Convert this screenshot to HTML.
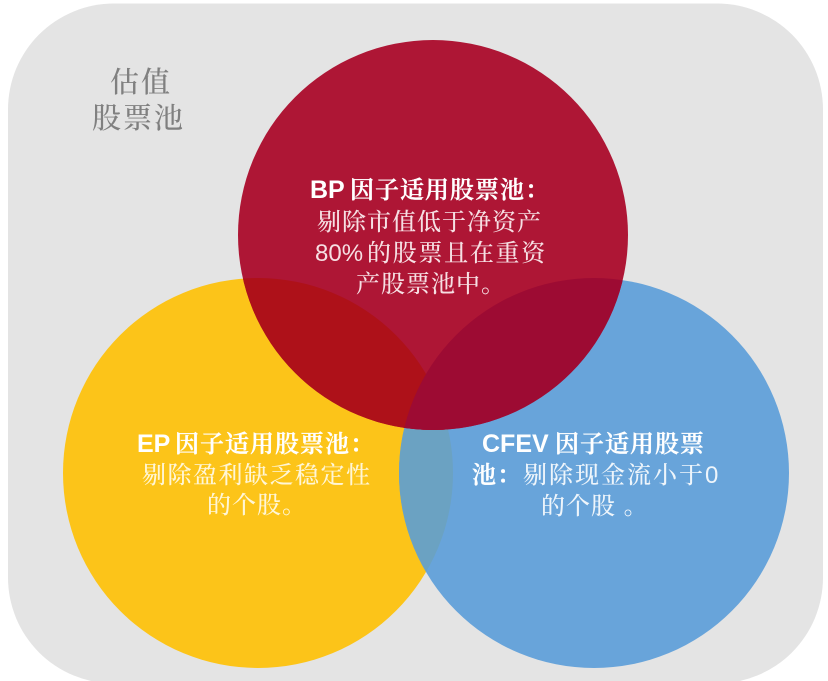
<!DOCTYPE html>
<html lang="zh">
<head>
<meta charset="utf-8">
<title>估值股票池</title>
<style>
html,body{margin:0;padding:0;background:#fff;width:828px;height:681px;overflow:hidden}
svg{display:block;filter:blur(.35px)}
text{font-family:"Liberation Sans","Noto Serif CJK SC",serif;font-size:24px;letter-spacing:1px;white-space:pre;font-weight:500}
.t{fill:#fff;font-weight:700;font-size:25px;letter-spacing:0}
.t tspan{font-size:24px;letter-spacing:1px;font-weight:600;stroke:#fff;stroke-width:.35px}
.r{fill:#f6dfe3}
.y{fill:#fff6d6}
.b{fill:#eef5fb}
.g{fill:#808080;font-size:29px;letter-spacing:2px}
</style>
</head>
<body>
<svg width="828" height="681" viewBox="0 0 828 681" xmlns="http://www.w3.org/2000/svg">
<defs>
<clipPath id="cy"><circle cx="258" cy="473" r="195"/></clipPath>
<clipPath id="cr"><circle cx="433" cy="235" r="195"/></clipPath>
</defs>
<rect x="8" y="3.5" width="815" height="680" rx="106" ry="106" fill="#e4e4e4"/>
<circle cx="258" cy="473" r="195" fill="#fcc419"/>
<circle cx="594" cy="473" r="195" fill="#68a4da"/>
<circle cx="594" cy="473" r="195" fill="#6ba2c2" clip-path="url(#cy)"/>
<circle cx="433" cy="235" r="195" fill="#ae1635"/>
<circle cx="258" cy="473" r="195" fill="#ae1119" clip-path="url(#cr)"/>
<circle cx="594" cy="473" r="195" fill="#9d0b33" clip-path="url(#cr)"/>

<text class="g" x="110" y="92">估值</text>
<text class="g" x="92" y="128">股票池</text>

<text class="t" x="310" y="198">BP<tspan x="350">因子适用股票池：</tspan></text>
<text class="r" x="317" y="230">剔除市值低于净资产</text>
<text class="r" x="315" y="261" style="letter-spacing:0">80%<tspan dx="4" style="letter-spacing:1.7px">的股票且在重资</tspan></text>
<text class="r" x="356" y="292">产股票池中。</text>

<text class="t" x="137" y="452">EP<tspan x="175">因子适用股票池：</tspan></text>
<text class="y" x="142" y="483" style="letter-spacing:1.5px">剔除盈利缺乏稳定性</text>
<text class="y" x="207" y="513">的个股。</text>

<text class="t" x="482" y="452">CFEV<tspan x="555">因子适用股票</tspan></text>
<text class="t" x="472" y="483"><tspan>池：</tspan><tspan x="523" style="stroke:none;font-weight:500;fill:#eef5fb;letter-spacing:2px">剔除现金流小于0</tspan></text>
<text class="b" x="541" y="514">的个股 。</text>
</svg>
</body>
</html>
